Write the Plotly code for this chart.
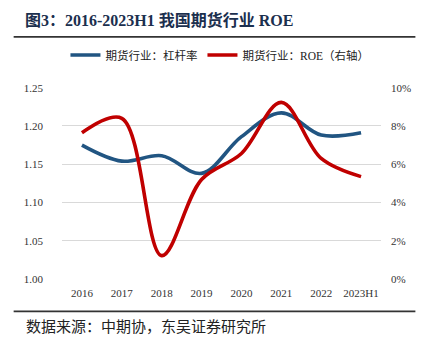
import plotly.graph_objects as go

years = ["2016", "2017", "2018", "2019", "2020", "2021", "2022", "2023H1"]
leverage = [1.175, 1.154, 1.161, 1.138, 1.186, 1.217, 1.188, 1.191]
roe = [7.64, 8.40, 1.22, 5.20, 6.56, 9.23, 6.30, 5.35]
left_ticks = [1.00, 1.05, 1.10, 1.15, 1.20, 1.25]
right_ticks = [0, 2, 4, 6, 8, 10]

FONT = "Liberation Serif, Times New Roman, Noto Sans CJK SC, serif"
CJK = "Liberation Serif, Noto Sans CJK SC, serif"

fig = go.Figure()
fig.add_trace(go.Scatter(
    x=years, y=leverage, name="期货行业：杠杆率", mode="lines",
    line=dict(color="#215582", width=3.6, shape="spline", smoothing=1.0),
    yaxis="y"))
fig.add_trace(go.Scatter(
    x=years, y=roe, name="期货行业：ROE（右轴）", mode="lines",
    line=dict(color="#C00000", width=3.6, shape="spline", smoothing=1.0),
    yaxis="y2"))

fig.update_layout(
    width=423, height=352,
    margin=dict(l=61.5, r=41.5, t=85, b=73.3),
    paper_bgcolor="white", plot_bgcolor="white",
    font=dict(family=FONT, size=11, color="#333333"),
    showlegend=True,
    legend=dict(orientation="h", x=0.52, xanchor="center", xref="container",
                y=1 - 55/352, yanchor="middle", yref="container",
                font=dict(family=CJK, size=11.5, color="#222222"),
                itemwidth=30, bgcolor="rgba(0,0,0,0)"),
    xaxis=dict(type="category", range=[-0.5, 7.5], showgrid=False, showline=False,
               zeroline=False, ticks="", tickfont=dict(size=11, color="#333333"),
               ticklabelstandoff=6),
    yaxis=dict(range=[1.0, 1.25], tickvals=left_ticks, tickformat=".2f",
               showgrid=True, gridcolor="#d9d9d9", gridwidth=1, zeroline=False,
               showline=False, ticks="", ticklabelstandoff=18,
               tickfont=dict(size=11, color="#333333")),
    yaxis2=dict(range=[0, 10], tickvals=right_ticks, ticktext=[f"{v}%" for v in right_ticks],
                overlaying="y", side="right", showgrid=False, zeroline=False,
                showline=False, ticks="", ticklabelstandoff=9,
                tickfont=dict(size=11, color="#333333")),
)

fig.add_annotation(text="<b>图3：2016-2023H1 我国期货行业 ROE</b>", xref="paper", yref="paper",
                   x=(22-61.5)/320, y=1 + (85-17)/193.7, xanchor="left", yanchor="middle",
                   showarrow=False, font=dict(family=CJK, size=16, color="#1B2F4E"))
fig.add_annotation(text="数据来源：中期协，东吴证券研究所", xref="paper", yref="paper",
                   x=(23-61.5)/320, y=-(327-278.7)/193.7, xanchor="left", yanchor="middle",
                   showarrow=False, font=dict(family=CJK, size=15, color="#222222"))
fig.add_shape(type="line", xref="paper", yref="paper",
              x0=(13-61.5)/320, x1=(416-61.5)/320,
              y0=1 + (85-33.5)/193.7, y1=1 + (85-33.5)/193.7,
              line=dict(color="#333333", width=1.8))
fig.add_shape(type="line", xref="paper", yref="paper",
              x0=(13-61.5)/320, x1=(416-61.5)/320,
              y0=-(311.5-278.7)/193.7, y1=-(311.5-278.7)/193.7,
              line=dict(color="#333333", width=1.8))

fig.write_html("out.html")
